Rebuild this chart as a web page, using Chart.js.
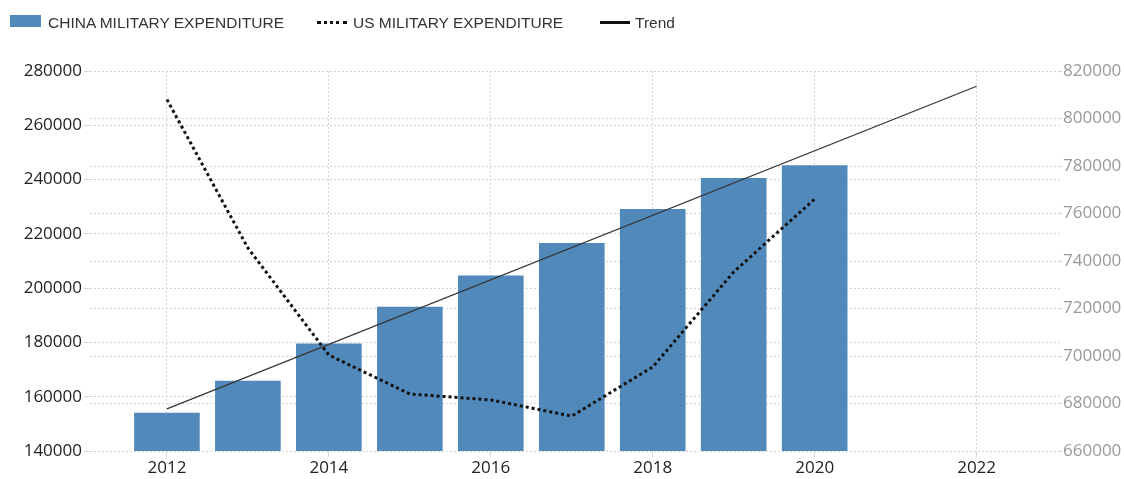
<!DOCTYPE html>
<html>
<head>
<meta charset="utf-8">
<script src="https://cdn.jsdelivr.net/npm/chart.js@4/dist/chart.umd.min.js"></script>
<style>
  html, body { margin: 0; padding: 0; background: #fff; }
  #wrap { position: relative; width: 1124px; height: 479px; }
  #legend { position: absolute; left: 0; top: 0; width: 1124px; height: 45px; font-family: "Liberation Sans", Arial, sans-serif; font-size: 15.5px; color: #333; }
  .item { position: absolute; top: 14px; height: 18px; line-height: 18px; white-space: nowrap; }
  .box { position: absolute; left: 10px; top: 15px; width: 31px; height: 12px; background: #5189bb; }
  .dots { position: absolute; left: 317px; top: 21px; width: 30px; border-top: 3px dotted #111; }
  .solid { position: absolute; left: 600px; top: 21px; width: 30px; border-top: 3px solid #111; }
</style>
</head>
<body>
<div id="wrap">
  <canvas id="c" width="1124" height="479"></canvas>
  <div id="legend">
    <div class="box"></div>
    <div class="item" style="left:48px">CHINA MILITARY EXPENDITURE</div>
    <div class="dots"></div>
    <div class="item" style="left:353px">US MILITARY EXPENDITURE</div>
    <div class="solid"></div>
    <div class="item" style="left:635px">Trend</div>
  </div>
</div>
<script>
const years = [2012, 2013, 2014, 2015, 2016, 2017, 2018, 2019, 2020];
const chinaSpending = [154000, 165800, 179500, 193000, 204500, 216500, 229000, 240500, 245200];
const usSpending = [808000, 745500, 700400, 684000, 681500, 674700, 695400, 735400, 766100];
const trendYears = [2012, 2022];
const trendValues = [155500, 274400];
const xTickLabels = [2012, 2014, 2016, 2018, 2020, 2022];
const leftTicks = [140000, 160000, 180000, 200000, 220000, 240000, 260000, 280000];
const rightTicks = [660000, 680000, 700000, 720000, 740000, 760000, 780000, 800000, 820000];

const tickFont = { family: "'Open Sans', sans-serif", size: 17 };
const gridStyle = { color: '#d6d6d6', lineWidth: 1, tickLength: 6, offset: false };
const gridBorderDash = [2, 2];

new Chart(document.getElementById('c'), {
  data: {
    datasets: [
      {
        type: 'bar',
        label: 'CHINA MILITARY EXPENDITURE',
        data: years.map((y, i) => ({ x: y, y: chinaSpending[i] })),
        backgroundColor: '#5189bb',
        borderWidth: 0,
        barThickness: 65,
        yAxisID: 'y',
        order: 3
      },
      {
        type: 'line',
        label: 'Trend',
        data: trendYears.map((y, i) => ({ x: y, y: trendValues[i] })),
        borderColor: '#333',
        borderWidth: 1.2,
        pointRadius: 0,
        fill: false,
        yAxisID: 'y',
        order: 2
      },
      {
        type: 'line',
        label: 'US MILITARY EXPENDITURE',
        data: years.map((y, i) => ({ x: y, y: usSpending[i] })),
        borderColor: '#111',
        borderWidth: 3,
        borderDash: [3, 3],
        pointRadius: 0,
        tension: 0,
        fill: false,
        yAxisID: 'y1',
        order: 1
      }
    ]
  },
  options: {
    responsive: false,
    animation: false,
    layout: { padding: { top: 71, left: 0, right: 0, bottom: 0 } },
    plugins: { legend: { display: false }, tooltip: { enabled: false } },
    scales: {
      x: {
        type: 'linear',
        offset: false,
        min: 2011.05,
        max: 2023.03,
        afterBuildTicks: s => { s.ticks = xTickLabels.map(v => ({ value: v })); },
        afterFit: s => { s.height = 28; },
        ticks: { font: tickFont, color: '#222', padding: 1, callback: v => String(v) },
        grid: { ...gridStyle },
        border: { display: false, dash: gridBorderDash }
      },
      y: {
        position: 'left',
        min: 140000,
        max: 280000,
        afterBuildTicks: s => { s.ticks = leftTicks.map(v => ({ value: v })); },
        afterFit: s => { s.width = 90; },
        ticks: { font: tickFont, color: '#222', padding: 2, callback: v => String(v) },
        grid: { ...gridStyle },
        border: { display: false, dash: gridBorderDash }
      },
      y1: {
        position: 'right',
        min: 660000,
        max: 820000,
        afterBuildTicks: s => { s.ticks = rightTicks.map(v => ({ value: v })); },
        afterFit: s => { s.width = 64; },
        ticks: { font: tickFont, color: '#999', padding: 1, callback: v => String(v) },
        grid: { ...gridStyle, tickLength: 2 },
        border: { display: false, dash: gridBorderDash }
      }
    }
  }
});
</script>
</body>
</html>
